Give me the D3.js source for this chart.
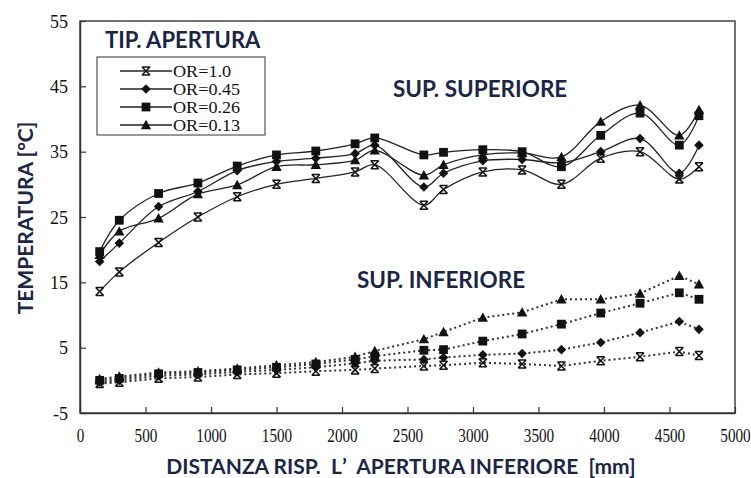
<!DOCTYPE html>
<html>
<head>
<meta charset="utf-8">
<script src="https://cdn.jsdelivr.net/npm/d3@7"></script>
<style>
  html, body { margin: 0; padding: 0; background: #fff; }
  svg { display: block; }
</style>
</head>
<body>
<svg id="chart" width="751" height="478"></svg>
<script>
// Measurement stations along the wall [mm]
const distanza = [150, 300, 600, 900, 1200, 1500, 1800, 2100, 2250, 2625, 2775, 3075, 3375, 3675, 3975, 4275, 4575, 4725];

// Opening ratios (legend order)
const aperture = ["OR=1.0", "OR=0.45", "OR=0.26", "OR=0.13"];
const simboli = ["cross", "diamond", "square", "triangle"];

// Upper surface temperatures [°C]
const supOR100 = [13.6, 16.6, 21.1, 25.0, 28.1, 30.0, 30.9, 31.9, 33.0, 26.8, 29.2, 31.9, 32.2, 30.0, 34.0, 35.0, 30.8, 32.7];
const supOR045 = [18.2, 21.0, 26.6, 28.9, 32.1, 33.5, 34.0, 34.7, 36.0, 29.6, 31.7, 33.6, 33.8, 33.3, 35.0, 37.0, 31.7, 36.0];
const supOR026 = [19.7, 24.5, 28.6, 30.2, 32.8, 34.5, 35.1, 36.2, 37.1, 34.5, 34.9, 35.3, 35.0, 32.7, 37.5, 40.9, 36.0, 40.5];
const supOR013 = [19.2, 22.8, 24.8, 28.5, 29.9, 32.7, 33.0, 33.7, 35.2, 31.4, 33.0, 34.5, 34.8, 34.2, 39.6, 42.1, 37.5, 41.4];

// Lower surface temperatures [°C]
const infOR100 = [-0.5, -0.3, 0.3, 0.5, 0.9, 1.1, 1.4, 1.6, 1.8, 2.2, 2.3, 2.7, 2.5, 2.2, 3.0, 3.6, 4.4, 3.8];
const infOR045 = [-0.3, 0.0, 0.7, 0.9, 1.3, 1.6, 2.0, 2.6, 3.0, 3.2, 3.5, 3.9, 4.1, 4.7, 5.8, 7.3, 9.0, 7.8];
const infOR026 = [0.0, 0.3, 1.0, 1.2, 1.6, 2.0, 2.5, 3.2, 3.7, 4.6, 4.7, 6.0, 7.1, 8.6, 10.3, 11.8, 13.4, 12.4];
const infOR013 = [0.2, 0.6, 1.2, 1.4, 1.8, 2.3, 2.8, 3.6, 4.5, 6.3, 7.4, 9.6, 10.4, 12.4, 12.4, 13.3, 16.0, 14.7];

// Axis ticks
const xTicks = [0, 500, 1000, 1500, 2000, 2500, 3000, 3500, 4000, 4500, 5000];
const yTicks = [-5, 5, 15, 25, 35, 45, 55];

const supSerie = [supOR100, supOR045, supOR026, supOR013];
const infSerie = [infOR100, infOR045, infOR026, infOR013];

const W = 751, H = 478;
const margin = { top: 21, right: 16, bottom: 65, left: 80 };
const navy = "#1b2646";
const serif = "'Liberation Serif', 'Times New Roman', serif";
const sans = "Lato, 'Open Sans', sans-serif";

const svg = d3.select("#chart");

const x = d3.scaleLinear().domain([0, 5000]).range([margin.left, W - margin.right]);
const y = d3.scaleLinear().domain([-5, 55]).range([H - margin.bottom, margin.top]);

// Frame
svg.append("rect")
  .attr("x", x(0)).attr("y", y(55))
  .attr("width", x(5000) - x(0)).attr("height", y(-5) - y(55))
  .attr("fill", "none").attr("stroke", "#444").attr("stroke-width", 1.5);

// X axis (ticks pointing inward)
const xAxis = svg.append("g")
  .attr("transform", `translate(0,${y(-5)})`)
  .call(d3.axisBottom(x).tickValues(xTicks).tickSizeInner(-6).tickSizeOuter(0).tickPadding(0).tickFormat(d => String(d)));
xAxis.attr("font-family", serif);
xAxis.select(".domain").attr("stroke", "#333").attr("stroke-width", 1.5);
xAxis.selectAll(".tick line").attr("stroke", "#333").attr("stroke-width", 1.2);
xAxis.selectAll(".tick text")
  .attr("font-family", serif)
  .attr("font-size", 19).attr("fill", "#111")
  .attr("y", 0).attr("dy", 0)
  .attr("transform", "translate(0,29) scale(0.8,1)");

// Y axis (ticks pointing inward)
const yAxis = svg.append("g")
  .attr("transform", `translate(${x(0)},0)`)
  .call(d3.axisLeft(y).tickValues(yTicks).tickSizeInner(-6).tickSizeOuter(0).tickPadding(12).tickFormat(d => String(d)));
yAxis.attr("font-family", serif);
yAxis.select(".domain").attr("stroke", "#333").attr("stroke-width", 1.5);
yAxis.selectAll(".tick line").attr("stroke", "#333").attr("stroke-width", 1.2);
yAxis.selectAll(".tick text")
  .attr("font-family", serif)
  .attr("font-size", 18).attr("fill", "#111")
  .attr("dy", "0.35em");

// Marker shapes
function markerPath(kind) {
  switch (kind) {
    case "cross": return "M-4,-4L4,4M4,-4L-4,4M-4,-4H4M-4,4H4";
    case "diamond": return "M0,-4.8L4.8,0L0,4.8L-4.8,0Z";
    case "square": return "M-4.4,-4.4H4.4V4.4H-4.4Z";
    case "triangle": return "M0,-5.2L5.2,4.2H-5.2Z";
  }
}
function drawMarker(g, kind, cx, cy) {
  const p = g.append("path")
    .attr("d", markerPath(kind))
    .attr("transform", `translate(${cx},${cy})`);
  if (kind === "cross") p.attr("fill", "none").attr("stroke", "#111").attr("stroke-width", 1.5);
  else p.attr("fill", "#111");
}

const lineGen = d3.line()
  .x((d, i) => x(distanza[i]))
  .y(d => y(d))
  .curve(d3.curveCatmullRom.alpha(0.5));

const gSup = svg.append("g");
supSerie.forEach((vals, k) => {
  gSup.append("path").datum(vals)
    .attr("d", lineGen)
    .attr("fill", "none").attr("stroke", "#222").attr("stroke-width", 1.3);
});
supSerie.forEach((vals, k) => {
  vals.forEach((v, i) => drawMarker(gSup, simboli[k], x(distanza[i]), y(v)));
});

const lineInf = d3.line()
  .x((d, i) => x(distanza[i]))
  .y(d => y(d));

const gInf = svg.append("g");
infSerie.forEach((vals, k) => {
  gInf.append("path").datum(vals)
    .attr("d", lineInf)
    .attr("fill", "none").attr("stroke", "#333").attr("stroke-width", 2)
    .attr("stroke-dasharray", "2,3");
});
infSerie.forEach((vals, k) => {
  vals.forEach((v, i) => drawMarker(gInf, simboli[k], x(distanza[i]), y(v)));
});

// Legend
const leg = svg.append("g");
leg.append("text")
  .attr("x", 105).attr("y", 48)
  .attr("font-family", sans).attr("font-weight", 700)
  .attr("font-size", 22).attr("fill", navy)
  .text("TIP. APERTURA");
leg.append("rect")
  .attr("x", 97).attr("y", 57).attr("width", 168).attr("height", 78)
  .attr("fill", "#fff").attr("stroke", "#555").attr("stroke-width", 1.2);
aperture.forEach((lab, k) => {
  const ly = 71 + k * 18;
  leg.append("line").attr("x1", 120).attr("x2", 172).attr("y1", ly).attr("y2", ly)
    .attr("stroke", "#222").attr("stroke-width", 1.3);
  drawMarker(leg, simboli[k], 146, ly);
  leg.append("text")
    .attr("x", 173).attr("y", ly).attr("dy", "0.35em")
    .attr("font-family", serif)
    .attr("font-size", 16.5).attr("fill", "#111")
    .attr("transform", `translate(173,${ly}) scale(1.1,1) translate(-173,${-ly})`)
    .text(lab);
});

// Surface annotations
svg.append("text")
  .attr("x", 393).attr("y", 97)
  .attr("font-family", sans).attr("font-weight", 700)
  .attr("font-size", 22.5).attr("fill", navy)
  .text("SUP. SUPERIORE");
svg.append("text")
  .attr("x", 357).attr("y", 288)
  .attr("font-family", sans).attr("font-weight", 700)
  .attr("font-size", 22.5).attr("fill", navy)
  .text("SUP. INFERIORE");

// Axis titles
svg.append("text")
  .attr("x", 401).attr("y", 474)
  .attr("text-anchor", "middle")
  .attr("font-family", sans).attr("font-weight", 700)
  .attr("font-size", 21).attr("fill", navy)
  .attr("xml:space", "preserve")
  .text("DISTANZA RISP.  L\u02BC  APERTURA INFERIORE  [mm]");
svg.append("text")
  .attr("transform", `translate(33,218) rotate(-90)`)
  .attr("text-anchor", "middle")
  .attr("font-family", sans).attr("font-weight", 700)
  .attr("font-size", 21).attr("fill", navy)
  .text("TEMPERATURA [°C]");
</script>
</body>
</html>
